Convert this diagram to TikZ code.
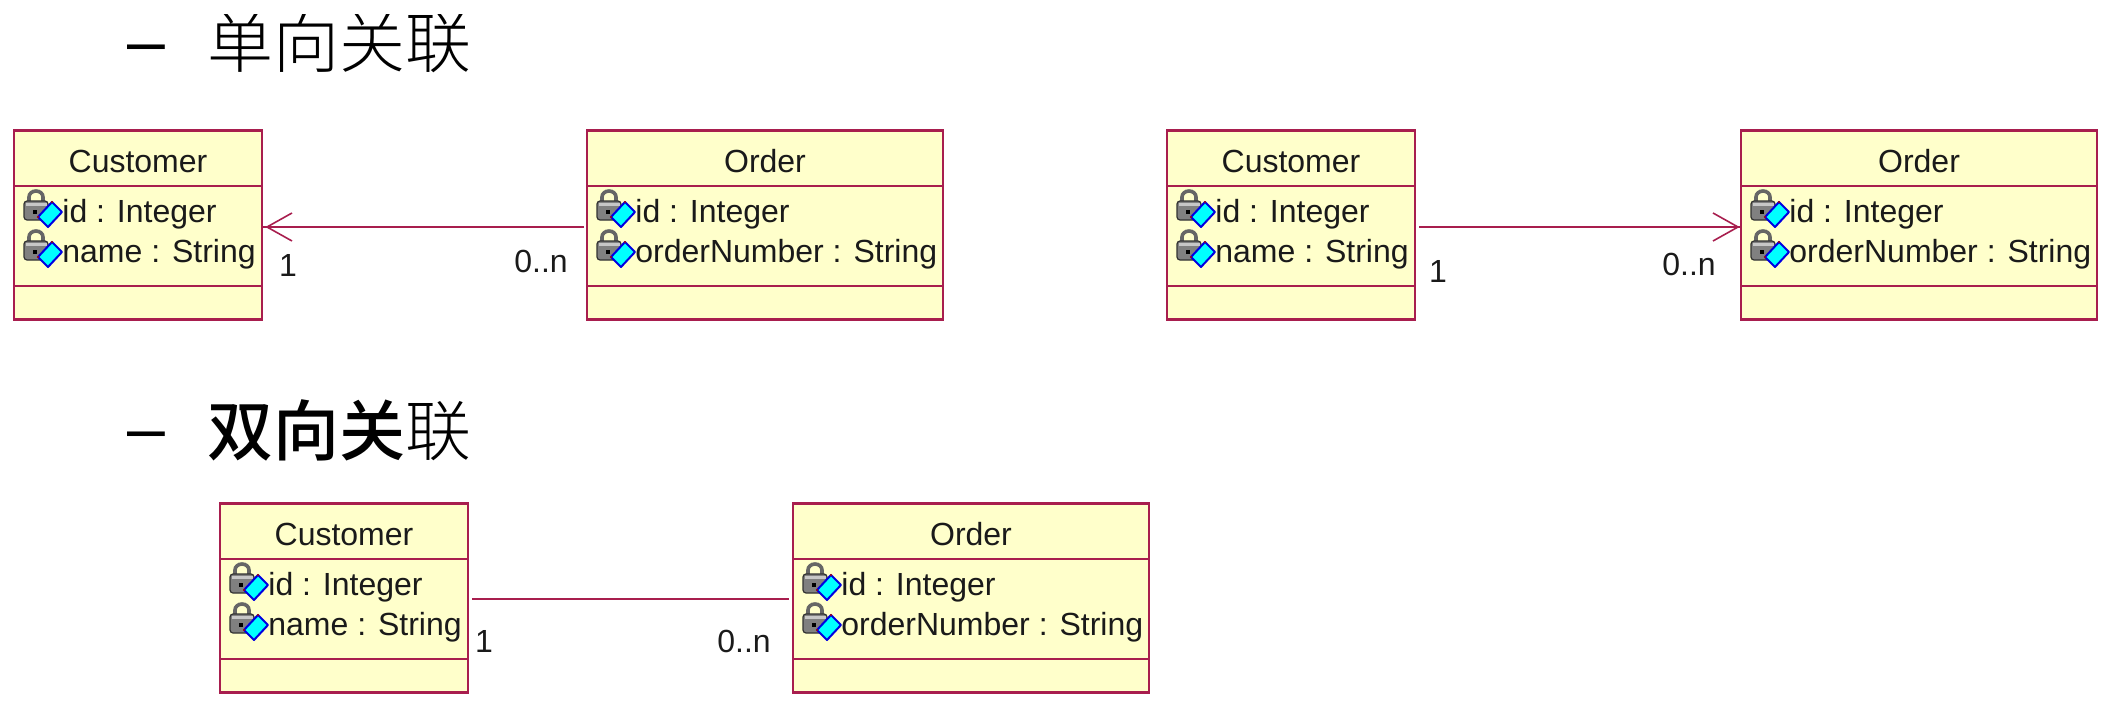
\documentclass[tikz,border=0pt]{standalone}
\usepackage{fontspec}
\setmainfont{Liberation Sans}
\newfontfamily\cjk{Noto Sans CJK SC Light}
\newfontfamily\cjkbold{Noto Sans CJK SC Medium}
\usetikzlibrary{arrows.meta}
\definecolor{umlline}{HTML}{A81E4E}
\definecolor{umlfill}{HTML}{FFFFCB}
\definecolor{attrcyan}{HTML}{00FFFF}
\definecolor{attrblue}{HTML}{0000E0}
\definecolor{umltext}{HTML}{1A1A1A}
\tikzset{
  x=0.5pt,y=-0.5pt,
  classbox/.style={draw=umlline,fill=umlfill,line width=1.4pt,inner sep=0pt,outer sep=0pt,anchor=north west,minimum height=94.5pt},
  classrule/.style={draw=umlline,line width=1.4pt},
  titletext/.style={font=\fontsize{16}{18}\selectfont,anchor=base,inner sep=0pt,text=umltext},
  attrtext/.style={font=\fontsize{16}{18}\selectfont,anchor=base west,inner sep=0pt,text=umltext},
  multtext/.style={font=\fontsize{16}{18}\selectfont,anchor=base,inner sep=0pt,text=umltext},
  assoc/.style={draw=umlline,line width=1.4pt},
  armline/.style={draw=umlline,line width=0.8pt},
  headtext/.style={font=\cjk\fontsize{33}{36}\selectfont,anchor=base west,inner sep=0pt},
  dashtext/.style={font=\fontsize{34}{36}\selectfont,anchor=base west,inner sep=0pt},
  attricon/.pic={
    \draw[line width=1.8pt,draw=black!60] (5,12) -- (5,7) arc[start angle=180,end angle=360,x radius=7,y radius=6] -- (19,12);
    \filldraw[draw=black!80,fill=black!50,line width=.6pt,rounded corners=1.5pt] (0,11) rectangle (24,30);
    \fill[black!22] (1.5,12.5) rectangle (22.5,16);
    \fill[black] (9,20) rectangle (13,24);
    \filldraw[fill=attrcyan,draw=attrblue,line width=1pt,line join=round] (28,12) -- (38,22) -- (24,37) -- (14,27) -- cycle;
    \fill[red!70!black] (14,27) circle[radius=1.2] (28,12) circle[radius=1.2];
  },
}
\newcommand{\umlclass}[6]{% name, left, right, top, title, attr row 2
  \node[classbox,minimum width=#3*0.5pt-#2*0.5pt] (#1) at (#2,#4) {};
  \coordinate (#1d) at (#2,#4+55.5);
  \coordinate (#1e) at (#2,#4+155.5);
  \draw[classrule] (#1.west |- #1d) -- (#1.east |- #1d);
  \draw[classrule] (#1.west |- #1e) -- (#1.east |- #1e);
  \node[titletext] (#1t) at (#2*0.5+#3*0.5,#4+41.5) {#5};
  \pic at (#2+10,#4+59.5) {attricon};
  \pic at (#2+10,#4+99.5) {attricon};
  \node[attrtext] (#1a) at (#2+48,#4+91.5) {id : Integer};
  \node[attrtext] (#1b) at (#2+48,#4+131.5) {#6};
}
\begin{document}
\begin{tikzpicture}
\useasboundingbox (0,0) rectangle (2116,706);
% headings
\node[dashtext] (dasha) at (127,65) {–};
\begin{scope}
  \clip (150,15) rectangle (600,100);
  \node[headtext] (heada) at (207,68) {单向关联};
\end{scope}
\node[dashtext] (dashb) at (127,451) {–};
\node[headtext] (headb) at (207,455) {{\cjkbold 双向关}联};
% classes
\umlclass{ca}{14}{262}{130.5}{Customer}{name : String}
\umlclass{oa}{587}{943}{130.5}{Order}{orderNumber : String}
\umlclass{cb}{1167}{1415}{130.5}{Customer}{name : String}
\umlclass{ob}{1741}{2097}{130.5}{Order}{orderNumber : String}
\umlclass{cc}{220}{468}{503.5}{Customer}{name : String}
\umlclass{oc}{793}{1149}{503.5}{Order}{orderNumber : String}
% connectors
\coordinate (ya) at (0,227);
\coordinate (yc) at (0,599);
\coordinate (tipa) at ([xshift=2.5pt]ca.east |- ya);
\coordinate (tipb) at ([xshift=-1.5pt]ob.west |- ya);
\draw[assoc] ([xshift=-1.5pt]oa.west |- ya) -- (ca.east |- ya);
\draw[armline] ([shift={(12.5pt,-7pt)}]tipa) -- (tipa) -- ([shift={(12.5pt,7pt)}]tipa);
\draw[assoc] ([xshift=2pt]cb.east |- ya) -- (ob.west |- ya);
\draw[armline] ([shift={(-12.5pt,-7pt)}]tipb) -- (tipb) -- ([shift={(-12.5pt,7pt)}]tipb);
\draw[assoc] ([xshift=2pt]cc.east |- yc) -- ([xshift=-2pt]oc.west |- yc);
% multiplicities
\node[multtext] (m1) at (288,276) {1};
\node[multtext] (m2) at (541,272) {0..n};
\node[multtext] (m3) at (1438,282) {1};
\node[multtext] (m4) at (1689,275) {0..n};
\node[multtext] (m5) at (484,652) {1};
\node[multtext] (m6) at (744,652) {0..n};
\end{tikzpicture}
\end{document}
